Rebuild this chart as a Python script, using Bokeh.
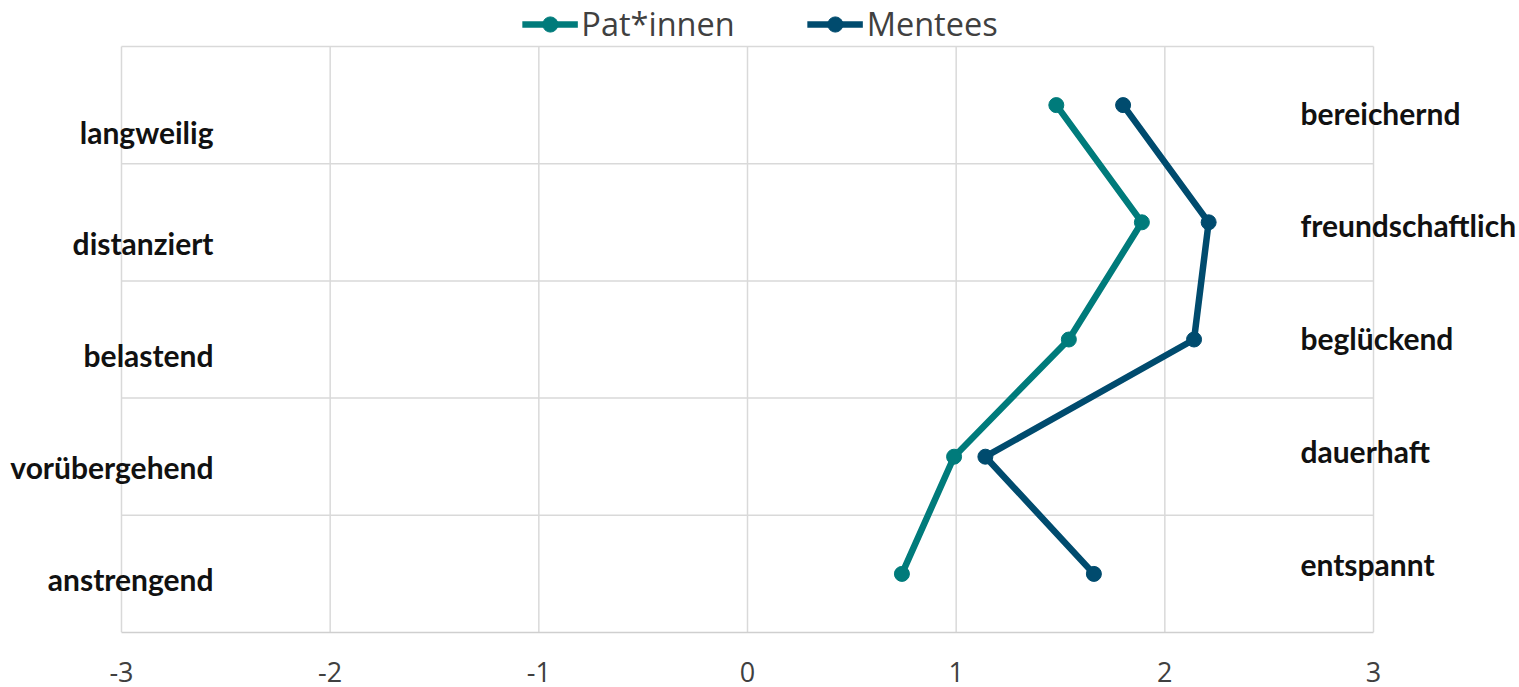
from bokeh.plotting import figure
from bokeh.models import Range1d, ColumnDataSource, LabelSet, Legend, LegendItem, FixedTicker
from bokeh.core.properties import value
from bokeh.embed import file_html
from bokeh.resources import INLINE

# ---- data ----
left_labels = ["langweilig", "distanziert", "belastend", "vorübergehend", "anstrengend"]
right_labels = ["bereichernd", "freundschaftlich", "beglückend", "dauerhaft", "entspannt"]
patinnen = [1.48, 1.89, 1.54, 0.99, 0.74]
mentees = [1.80, 2.21, 2.14, 1.14, 1.66]
x_ticks = [-3, -2, -1, 0, 1, 2, 3]
series_names = ["Pat*innen", "Mentees"]

TEAL = "#007B7B"
NAVY = "#004B6E"
GRID = "#D9D9D9"
FONT = "Open Sans"
BOLD_FONT = "Lato"

n = len(left_labels)
row_y = [n - 0.5 - i for i in range(n)]

W, H = 1519, 687
XS, YS = 208.67, 117.2  # px per unit
p = figure(width=W, height=H, output_backend="svg", toolbar_location=None,
           x_range=Range1d(-3 - 121 / XS, 3 + (W - 1373) / XS),
           y_range=Range1d(0, n + 46 / YS),
           min_border_left=0, min_border_right=0, min_border_top=0, min_border_bottom=55)
p.outline_line_color = None
p.background_fill_color = "white"
p.border_fill_color = "white"
p.xgrid.visible = False
p.ygrid.visible = False

# axes
p.yaxis.visible = False
p.xaxis.ticker = FixedTicker(ticks=x_ticks)
p.xaxis.bounds = (x_ticks[0], x_ticks[-1])
p.xaxis.major_label_overrides = {t: str(t) for t in x_ticks}
p.xaxis.axis_line_color = "#CFCFCF"
p.xaxis.axis_line_width = 1.5
p.xaxis.major_tick_line_color = None
p.xaxis.minor_tick_line_color = None
p.xaxis.major_label_text_font = FONT
p.xaxis.major_label_text_font_size = "27px"
p.xaxis.major_label_text_color = "#404040"
p.xaxis.major_label_standoff = 23

# grid lines (segments so that they stay inside the -3..3 x 0..n box)
p.segment(x0=x_ticks, y0=[0] * len(x_ticks), x1=x_ticks, y1=[n] * len(x_ticks),
          line_color=GRID, line_width=1.5)
ys = list(range(1, n + 1))
p.segment(x0=[x_ticks[0]] * len(ys), y0=ys, x1=[x_ticks[-1]] * len(ys), y1=ys,
          line_color=GRID, line_width=1.5)

# series
r1l = p.line(patinnen, row_y, line_color=TEAL, line_width=6.5)
r1c = p.scatter(patinnen, row_y, size=15, fill_color=TEAL, line_color=TEAL)
r2l = p.line(mentees, row_y, line_color=NAVY, line_width=6.5)
r2c = p.scatter(mentees, row_y, size=15, fill_color=NAVY, line_color=NAVY)

# category labels (baseline positions)
left_src = ColumnDataSource(dict(x=[-2.559] * n,
                                 y=[row_y[i] - 0.328 + 0.0465 * i for i in range(n)],
                                 t=left_labels))
right_src = ColumnDataSource(dict(x=[2.650] * n,
                                  y=[row_y[i] - 0.166 + 0.038 * i for i in range(n)],
                                  t=right_labels))
for src, align in ((left_src, "right"), (right_src, "left")):
    p.add_layout(LabelSet(x="x", y="y", text="t", source=src, text_align=align,
                          text_baseline="alphabetic", text_font=value(BOLD_FONT),
                          text_font_size=value("30px"), text_font_style=value("bold"),
                          text_color=value("#111111")))

legend = Legend(items=[LegendItem(label=series_names[0], renderers=[r1l, r1c]),
                       LegendItem(label=series_names[1], renderers=[r2l, r2c])],
                orientation="horizontal", location="top_center")
legend.label_text_font = FONT
legend.label_text_font_size = "32.5px"
legend.label_text_color = "#404040"
legend.glyph_width = 56
legend.glyph_height = 38
legend.label_height = 38
legend.label_standoff = 4
legend.spacing = 72
legend.padding = 0
legend.margin = 1
legend.border_line_color = None
legend.background_fill_alpha = 0
p.add_layout(legend, "center")

open("out.html", "w").write(file_html(p, INLINE))
